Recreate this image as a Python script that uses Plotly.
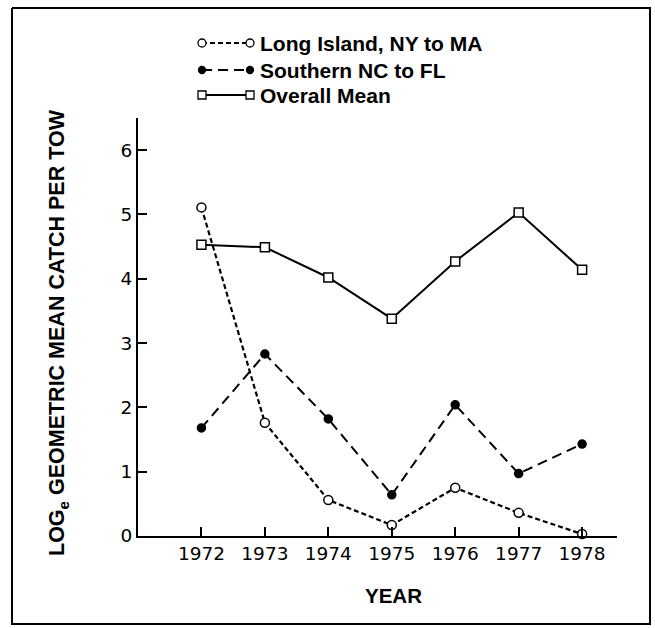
import plotly.graph_objects as go

years = [1972, 1973, 1974, 1975, 1976, 1977, 1978]
long_island = [5.11, 1.76, 0.56, 0.17, 0.75, 0.36, 0.03]
southern = [1.68, 2.83, 1.82, 0.64, 2.04, 0.97, 1.43]
overall = [4.53, 4.49, 4.02, 3.38, 4.27, 5.03, 4.14]
series_names = ["Long Island, NY to MA", "Southern NC to FL", "Overall Mean"]
y_ticks = [0, 1, 2, 3, 4, 5, 6]

W, H = 655, 628
TICKFONT = dict(family="DejaVu Sans", size=18.5, color="black")
TEXTFONT = "Liberation Sans"

styles = [
    dict(dash="5px,3px", symbol="circle", fill="white", size=9, width=2.2),
    dict(dash="10px,6px", symbol="circle", fill="black", size=8, width=2),
    dict(dash="solid", symbol="square", fill="white", size=9, width=2),
]

fig = go.Figure()

# outer frame drawn on the pixel overlay axis
frame_x = [12, 650, 650, 12, 12]
frame_y = [8, 8, 624, 624, 8]
fig.add_trace(go.Scatter(x=frame_x, y=frame_y, mode="lines", xaxis="x2", yaxis="y2",
                         showlegend=False, hoverinfo="skip", cliponaxis=False,
                         line=dict(color="black", width=2)))

for name, vals, st in zip(series_names, [long_island, southern, overall], styles):
    fig.add_trace(go.Scatter(
        x=years, y=vals, mode="lines+markers", name=name, showlegend=False,
        line=dict(color="black", width=st["width"], dash=st["dash"]),
        marker=dict(symbol=st["symbol"], size=st["size"], color=st["fill"],
                    line=dict(color="black", width=1.5)),
        cliponaxis=False,
    ))

# custom legend keys (pixel overlay axis)
leg_rows = [43, 70, 95]
leg_x = [202, 250]
for name, row, st in zip(series_names, leg_rows, styles):
    fig.add_trace(go.Scatter(
        x=leg_x, y=[row, row], mode="lines+markers", showlegend=False,
        xaxis="x2", yaxis="y2", hoverinfo="skip",
        line=dict(color="black", width=1.8, dash=st["dash"]),
        marker=dict(symbol=st["symbol"], size=st["size"] - 1, color=st["fill"],
                    line=dict(color="black", width=1.3)),
    ))
    fig.add_annotation(x=258, y=row, xref="x2", yref="y2", text=name,
                       showarrow=False, xanchor="left", yanchor="middle",
                       font=dict(family=TEXTFONT, size=21, color="black", weight="bold"))

fig.update_layout(
    width=W, height=H,
    margin=dict(l=0, r=0, t=0, b=0),
    paper_bgcolor="white", plot_bgcolor="rgba(0,0,0,0)",
    font=dict(family=TEXTFONT, color="black"),
    xaxis=dict(
        domain=[138 / W, 617 / W], range=[1971, 1978.55],
        tickvals=years, ticktext=[str(y) for y in years],
        ticks="inside", ticklen=9, tickwidth=2, tickcolor="black",
        showline=True, linecolor="black", linewidth=2, showgrid=False,
        zeroline=False, tickfont=TICKFONT, automargin=False,
    ),
    yaxis=dict(
        domain=[1 - 536 / H, 1 - 118 / H], range=[0, 6.5],
        tickvals=y_ticks, ticks="inside", ticklen=9, tickwidth=2, tickcolor="black",
        showline=True, linecolor="black", linewidth=2, showgrid=False,
        zeroline=False, tickfont=TICKFONT, automargin=False,
    ),
    xaxis2=dict(domain=[0, 1], range=[0, W], visible=False, fixedrange=True, anchor="y2"),
    yaxis2=dict(domain=[0, 1], range=[H, 0], visible=False, fixedrange=True, anchor="x2"),
)

fig.add_annotation(x=58 / W, y=1 - 333 / H, xref="paper", yref="paper",
                   xanchor="center", yanchor="middle",
                   text="LOG<sub>e</sub> GEOMETRIC MEAN CATCH PER TOW",
                   textangle=-90, showarrow=False,
                   font=dict(family=TEXTFONT, size=21.5, color="black", weight="bold"))
fig.add_annotation(x=393 / W, y=1 - 595.5 / H, xref="paper", yref="paper",
                   xanchor="center", yanchor="middle",
                   text="YEAR", showarrow=False,
                   font=dict(family=TEXTFONT, size=20.5, color="black", weight="bold"))

fig.write_html("out.html", config={"displayModeBar": False},
               post_script="document.body.style.margin='0';document.body.style.overflow='hidden';")
